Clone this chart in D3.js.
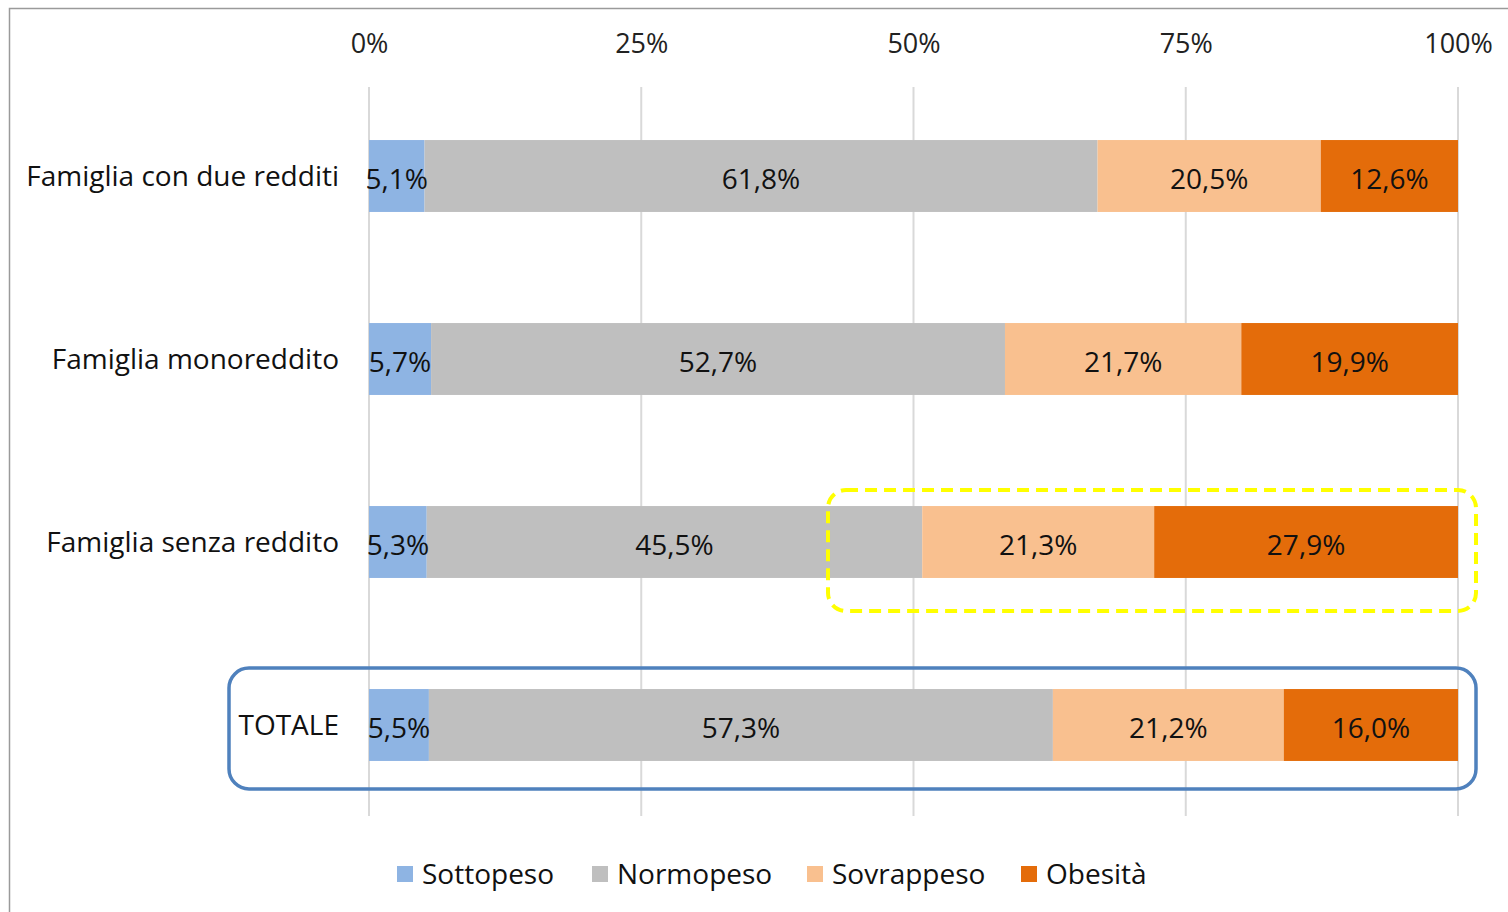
<!DOCTYPE html>
<html><head><meta charset="utf-8">
<script src="https://cdn.jsdelivr.net/npm/d3@7"></script>
<style>html,body{margin:0;padding:0;background:#fff;}svg{display:block;}</style>
</head><body>
<svg id="c" width="1508" height="912"></svg>
<script>
const categories = ["Famiglia con due redditi", "Famiglia monoreddito", "Famiglia senza reddito", "TOTALE"];
const seriesNames = ["Sottopeso", "Normopeso", "Sovrappeso", "Obesità"];
const sottopeso = [5.1, 5.7, 5.3, 5.5];
const normopeso = [61.8, 52.7, 45.5, 57.3];
const sovrappeso = [20.5, 21.7, 21.3, 21.2];
const obesita = [12.6, 19.9, 27.9, 16.0];
const tickValues = [0, 25, 50, 75, 100];
const colors = ["#8EB4E3", "#BFBFBF", "#F9C08F", "#E46C0A"];

const seriesValues = [sottopeso, normopeso, sovrappeso, obesita];
const rows = categories.map((c, i) => {
  const o = {cat: c};
  seriesNames.forEach((s, j) => o[s] = seriesValues[j][i]);
  return o;
});
const stacked = d3.stack().keys(seriesNames)(rows);

const svg = d3.select("#c");
const font = "Open Sans, sans-serif";

// chart frame
svg.append("path").attr("d", "M9.5,912 L9.5,8.5 L1508,8.5").attr("fill", "none").attr("stroke", "#9a9a9a").attr("stroke-width", 1.5);

const x = d3.scaleLinear().domain([0, 100]).range([369, 1458]);
const y = d3.scaleBand().domain(categories).range([84.5, 816.5]).paddingInner(0.607).paddingOuter(0.3035);

// gridlines
svg.append("g").selectAll("line").data(tickValues).join("line")
  .attr("x1", d => x(d)).attr("x2", d => x(d))
  .attr("y1", 87).attr("y2", 816)
  .attr("stroke", "#d9d9d9").attr("stroke-width", 2);

// top axis labels
const axis = d3.axisTop(x).tickValues(tickValues).tickFormat(d => d + "%").tickSize(0).tickPadding(0);
const ag = svg.append("g").attr("transform", "translate(0,53)").call(axis);
ag.select(".domain").remove();
ag.selectAll("text").attr("font-family", font).attr("font-size", 27).attr("fill", "#222");

// bars
const g = svg.append("g");
stacked.forEach((layer, j) => {
  g.selectAll(null).data(layer).join("rect")
    .attr("x", d => x(d[0])).attr("width", d => x(d[1]) - x(d[0]))
    .attr("y", d => y(d.data.cat)).attr("height", y.bandwidth())
    .attr("fill", colors[j]);
});
stacked.forEach((layer, j) => {
  g.selectAll(null).data(layer).join("text")
    .attr("x", d => (x(d[0]) + x(d[1])) / 2)
    .attr("y", d => y(d.data.cat) + y.bandwidth() / 2 + 3)
    .attr("dy", "0.35em").attr("text-anchor", "middle")
    .attr("font-family", font).attr("font-size", 28).attr("fill", "#111")
    .text(d => (d[1] - d[0]).toFixed(1).replace(".", ",") + "%");
});

// category labels
svg.append("g").selectAll("text").data(categories).join("text")
  .attr("x", 339).attr("y", d => y(d) + y.bandwidth() / 2)
  .attr("dy", "0.35em").attr("text-anchor", "end")
  .attr("font-family", font).attr("font-size", 28).attr("fill", "#111")
  .text(d => d);

// annotations
const r3 = categories[2], r4 = categories[3];
svg.append("rect")
  .attr("x", x(42.15)).attr("y", y(r3) - 16)
  .attr("width", x(100) + 18 - x(42.15)).attr("height", y.bandwidth() + 49)
  .attr("rx", 18).attr("fill", "none").attr("stroke", "#FFFF00")
  .attr("stroke-width", 4).attr("stroke-dasharray", "12,7");
svg.append("rect")
  .attr("x", 229).attr("y", y(r4) - 21)
  .attr("width", x(100) + 18 - 229).attr("height", y.bandwidth() + 49)
  .attr("rx", 20).attr("fill", "none").attr("stroke", "#4F81BD")
  .attr("stroke-width", 3.5);

// legend
const legendX = [397, 592, 807, 1021];
const lg = svg.append("g").selectAll("g").data(seriesNames).join("g")
  .attr("transform", (d, i) => `translate(${legendX[i]},866)`);
lg.append("rect").attr("width", 16).attr("height", 16).attr("fill", (d, i) => colors[i]);
lg.append("text").attr("x", 25).attr("y", 8).attr("dy", "0.35em")
  .attr("font-family", font).attr("font-size", 28).attr("fill", "#111").text(d => d);
</script>
</body></html>
